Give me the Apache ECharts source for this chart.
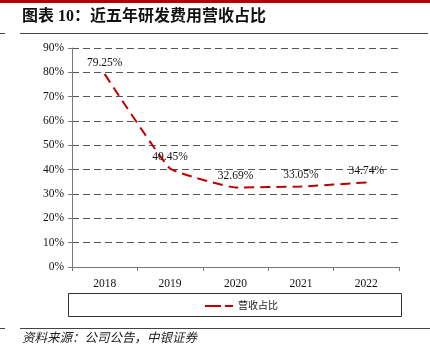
<!DOCTYPE html>
<html><head><meta charset="utf-8">
<script src="https://cdn.jsdelivr.net/npm/echarts@6/dist/echarts.min.js"></script>
<style>html,body{margin:0;padding:0;background:#fff}#c{width:430px;height:359px}</style>
</head><body><div id="c"></div>
<script>
const categories = ['2018','2019','2020','2021','2022'];
const ratioValues = [79.25, 40.45, 32.69, 33.05, 34.74];
const seriesName = '营收占比';
const yTicks = [0,10,20,30,40,50,60,70,80,90];
const titleText = '图表 10：近五年研发费用营收占比';
const sourceText = '资料来源：公司公告，中银证券';

const serif = '"Liberation Serif","Times New Roman","Noto Sans CJK SC",serif';
const chart = echarts.init(document.getElementById('c'), null, {renderer:'canvas'});
chart.setOption({
  animation:false,
  backgroundColor:'#fff',
  grid:{left:72,right:31,top:48,bottom:92,containLabel:false},
  xAxis:{type:'category',data:categories,boundaryGap:true,
    axisLine:{lineStyle:{color:'#777',width:1}},
    axisTick:{show:true,length:4,lineStyle:{color:'#777'},alignWithLabel:false},
    axisLabel:{color:'#111',fontFamily:serif,fontSize:11.5,margin:11}},
  yAxis:{type:'value',min:yTicks[0],max:yTicks[yTicks.length-1],interval:10,
    axisLine:{show:true,lineStyle:{color:'#777',width:1}},
    axisTick:{show:true,length:4,lineStyle:{color:'#777'}},
    axisLabel:{color:'#111',fontFamily:serif,fontSize:11.5,margin:8,formatter:'{value}%'},
    splitLine:{show:true,lineStyle:{color:'#555',type:[7,4],width:1}}},
  legend:{show:true,left:200,top:296,itemWidth:28,itemHeight:10,itemGap:4,
    textStyle:{fontFamily:serif,fontSize:10,color:'#222'},
    data:[{name:seriesName,icon:'path://M0,4h16v2h-16z M20,4h8v2h-8z',itemStyle:{color:'#c00000',opacity:1}}]},
  series:[{name:seriesName,type:'line',data:ratioValues,smooth:0.1,
    symbol:'circle',symbolSize:1,showSymbol:true,
    lineStyle:{color:'#c00000',width:2,type:[10,6]},
    itemStyle:{color:'#c00000'},
    label:{show:true,position:'top',distance:5,color:'#111',fontFamily:serif,fontSize:11.5,
      formatter:p=>p.value.toFixed(2)+'%'}}],
  graphic:[
    {type:'rect',shape:{x:0,y:0,width:430,height:3},style:{fill:'#b30000'}},
    {type:'text',left:22,top:9,style:{text:titleText,font:'bold 16px "Liberation Serif","Noto Sans CJK SC",serif',fill:'#111'}},
    {type:'line',shape:{x1:20,y1:33.5,x2:428,y2:33.5},style:{stroke:'#444',lineWidth:1}},
    {type:'line',shape:{x1:0,y1:33.5,x2:5,y2:33.5},style:{stroke:'#444',lineWidth:1}},
    {type:'rect',shape:{x:68.5,y:293.5,width:333,height:23},style:{fill:'none',stroke:'#333',lineWidth:1}},
    {type:'line',shape:{x1:20,y1:328.5,x2:430,y2:328.5},style:{stroke:'#444',lineWidth:1}},
    {type:'line',shape:{x1:0,y1:328.5,x2:5,y2:328.5},style:{stroke:'#444',lineWidth:1}},
    {type:'text',left:22,top:332,style:{text:sourceText,font:'italic 12.5px "Liberation Serif","Noto Sans CJK SC",serif',fill:'#222'}}
  ]
});
</script></body></html>
